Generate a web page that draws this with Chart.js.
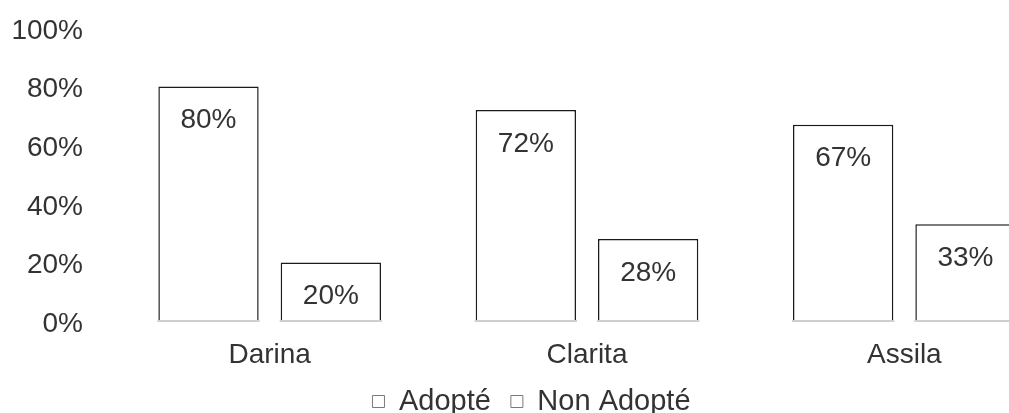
<!DOCTYPE html>
<html>
<head>
<meta charset="utf-8">
<script src="https://cdn.jsdelivr.net/npm/chart.js@4/dist/chart.umd.min.js"></script>
<style>
    html,body{margin:0;padding:0;background:#fff;}
    #wrap{width:1009px;height:413px;overflow:hidden;position:relative;}
    #box{width:1075px;height:426px;position:absolute;left:0;top:0;}
</style>
</head>
<body>

<div id="wrap">
    <div id="box">
        <canvas id="grafico"></canvas>
    </div>
</div>

<script>

// =====================================
// DADOS
// =====================================

const pessoas = ["Darina","Clarita","Assila"];

const adopte = [80,72,67];

const nonAdopte = [20,28,33];

const ticksPct = [0,20,40,60,80,100];

const fonte = "'Liberation Sans', Arial, sans-serif";

const corTexto = "#333333";


// =====================================
// ROTULOS + BASE CINZA DAS BARRAS
// =====================================

const rotulosBarras = {

    id:"rotulosBarras",

    afterDatasetsDraw(chart){

        const ctx = chart.ctx;

        ctx.save();

        // linha de base cinza só embaixo de cada barra
        ctx.strokeStyle = "#cfcfcf";
        ctx.lineWidth = 2;

        chart.data.datasets.forEach((ds,i)=>{

            chart.getDatasetMeta(i).data.forEach(bar=>{

                ctx.beginPath();
                ctx.moveTo(bar.x - bar.width/2 - 1, bar.base);
                ctx.lineTo(bar.x + bar.width/2 + 1, bar.base);
                ctx.stroke();

            });

        });

        ctx.font = "28px " + fonte;
        ctx.fillStyle = corTexto;
        ctx.textAlign = "center";
        ctx.textBaseline = "middle";

        chart.data.datasets.forEach((ds,i)=>{

            chart.getDatasetMeta(i).data.forEach((bar,j)=>{

                ctx.fillText(ds.data[j] + "%", bar.x, bar.y + 34);

            });

        });

        ctx.restore();

    }

};


// =====================================
// GRAFICO
// =====================================

new Chart(document.getElementById("grafico"),{

    type:"bar",

    data:{

        labels:pessoas,

        datasets:[

            {
                label:"Adopté",
                data:adopte,
                backgroundColor:"#ffffff",
                borderColor:"#1a1a1a",
                borderWidth:1.5
            },

            {
                label:"Non Adopté",
                data:nonAdopte,
                backgroundColor:"#ffffff",
                borderColor:"#1a1a1a",
                borderWidth:1.5
            }

        ]

    },

    options:{

        responsive:true,
        maintainAspectRatio:false,
        animation:false,

        categoryPercentage:0.771,
        barPercentage:0.82,

        layout:{
            padding:{top:28,bottom:0,left:0,right:12}
        },

        plugins:{

            tooltip:{enabled:false},

            legend:{

                position:"bottom",

                labels:{

                    color:corTexto,
                    font:{family:fonte,size:29},
                    boxWidth:12,
                    boxHeight:12,
                    padding:20,

                    generateLabels(chart){

                        return Chart.defaults.plugins.legend.labels
                        .generateLabels(chart)
                        .map(it=>{
                            it.fillStyle = "#ffffff";
                            it.strokeStyle = "#7a7a7a";
                            it.lineWidth = 1;
                            return it;
                        });

                    }

                }

            }

        },

        scales:{

            x:{

                afterFit(scale){
                    scale.height = 46;
                },

                grid:{display:false,drawTicks:false},

                border:{display:false},

                ticks:{
                    color:corTexto,
                    font:{family:fonte,size:28},
                    padding:17
                }

            },

            y:{

                min:0,
                max:100,

                afterFit(scale){
                    scale.width = 111;
                },

                afterBuildTicks(scale){
                    scale.ticks = ticksPct.map(v=>({value:v}));
                },

                // marcas invisíveis: só afastam os rótulos do eixo
                grid:{display:false,drawTicks:true,tickLength:28},

                border:{display:false},

                ticks:{
                    color:corTexto,
                    font:{family:fonte,size:28},
                    padding:0,
                    labelOffset:3,
                    callback:v=>v + "%"
                }

            }

        }

    },

    plugins:[rotulosBarras]

});

</script>

</body>
</html>
